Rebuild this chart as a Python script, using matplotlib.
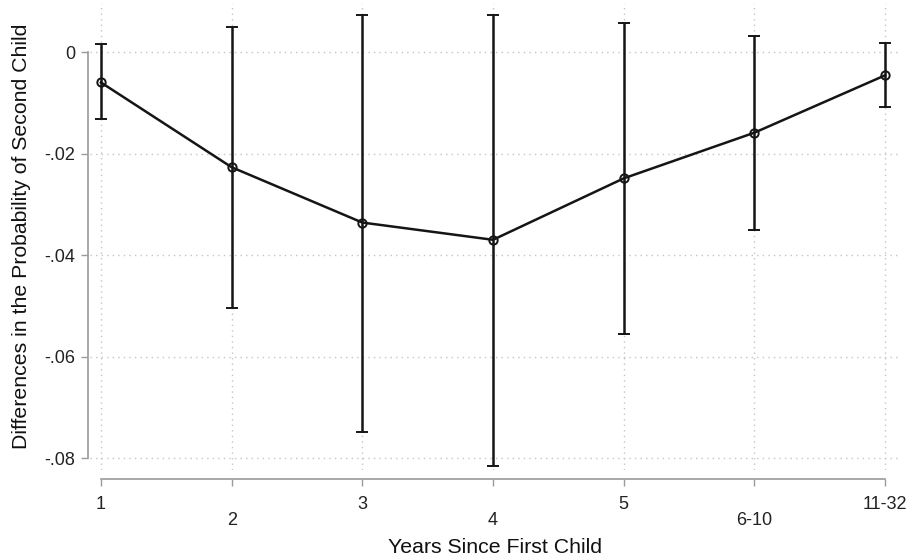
import matplotlib

matplotlib.use("Agg")

import matplotlib.pyplot as plt
import numpy as np

plt.rcParams["font.family"] = ["Liberation Sans", "DejaVu Sans"]

# Years since first child (binned) and estimated differences with 95% CI
categories = ["1", "2", "3", "4", "5", "6-10", "11-32"]
estimate = [-0.0060, -0.0227, -0.0336, -0.0370, -0.0249, -0.0159, -0.0046]
ci_low = [-0.0132, -0.0504, -0.0748, -0.0816, -0.0556, -0.0350, -0.0109]
ci_high = [0.0015, 0.0049, 0.0073, 0.0073, 0.0058, 0.0032, 0.0017]
y_ticks = [0.0, -0.02, -0.04, -0.06, -0.08]
y_tick_labels = ["0", "-.02", "-.04", "-.06", "-.08"]

x = np.arange(1, len(categories) + 1)
est = np.array(estimate)
yerr = [est - np.array(ci_low), np.array(ci_high) - est]

fig = plt.figure(figsize=(9.15, 5.59), dpi=100)
ax = fig.add_axes([90 / 915, 1 - 470 / 559, 810 / 915, 467 / 559])

ink = "#151515"
axis_gray = "#9a9a9a"

ax.errorbar(x, est, yerr=yerr, fmt="-o", color=ink, linewidth=1.8,
            elinewidth=1.8, capsize=4, capthick=1.8, markersize=6,
            markerfacecolor="none", markeredgecolor=ink, markeredgewidth=1.4,
            zorder=3)

ax.set_xlim(0.916, 7.115)
ax.set_ylim(-0.08236, 0.00966)

# staggered x labels: odd positions on major ticks, even positions on minor ticks
major_idx = list(range(0, len(categories), 2))
minor_idx = list(range(1, len(categories), 2))
ax.set_xticks(x[major_idx])
ax.set_xticklabels([categories[i] for i in major_idx])
ax.set_xticks(x[minor_idx], minor=True)
ax.set_xticklabels([categories[i] for i in minor_idx], minor=True)
ax.tick_params(axis="x", which="major", length=5, width=1, color=axis_gray,
               pad=7, labelsize=13, labelcolor="#222222")
ax.tick_params(axis="x", which="minor", length=5, width=1, color=axis_gray,
               pad=19, labelsize=13, labelcolor="#222222")

ax.set_yticks(y_ticks)
ax.set_yticklabels(y_tick_labels)
ax.tick_params(axis="y", length=5, width=1, color=axis_gray, pad=4,
               labelsize=13, labelcolor="#222222")

grid_kw = dict(color="#c4c4c4", linestyle=(0, (1, 3)), linewidth=1.0)
ax.grid(True, axis="y", **grid_kw)
ax.grid(True, axis="x", which="both", **grid_kw)
ax.set_axisbelow(True)

for side in ("top", "right"):
    ax.spines[side].set_visible(False)
ax.spines["left"].set_position(("outward", 1.5))
ax.spines["left"].set_bounds(-0.08, 0.0)
ax.spines["bottom"].set_position(("outward", 6.5))
ax.spines["bottom"].set_bounds(1, 7)
for side in ("left", "bottom"):
    ax.spines[side].set_color(axis_gray)
    ax.spines[side].set_linewidth(1.2)

ax.set_xlabel("Years Since First Child", fontsize=15.3, color="#111111", labelpad=6)
ax.set_ylabel("Differences in the Probability of Second Child", fontsize=15.3,
              color="#111111", labelpad=10)

fig.savefig("out.png", dpi=100)
